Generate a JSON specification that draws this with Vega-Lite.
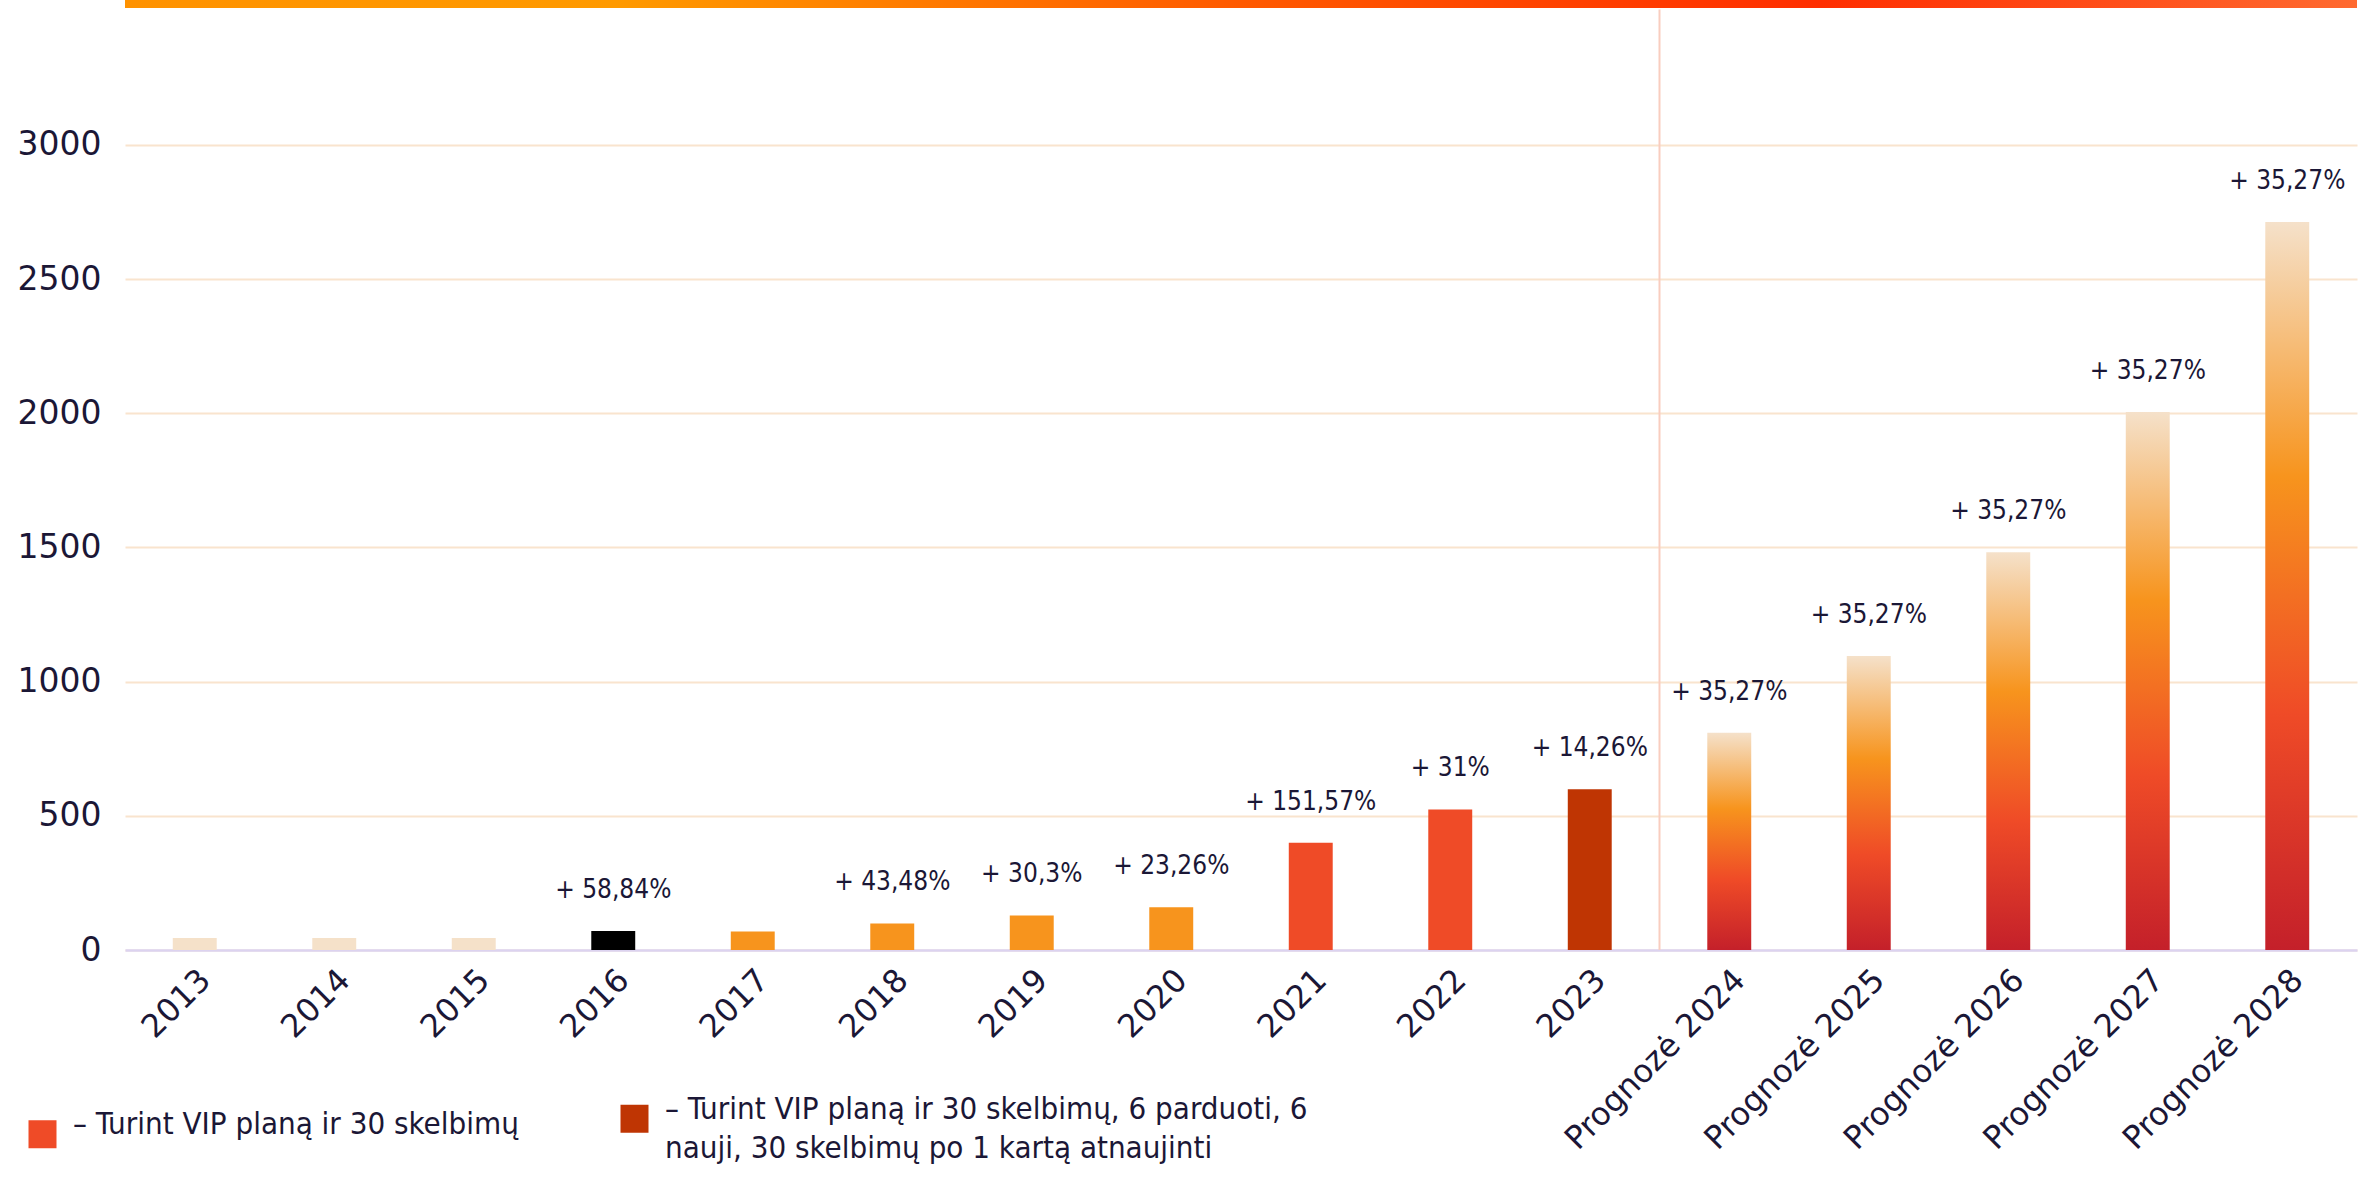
{
  "$schema": "https://vega.github.io/schema/vega-lite/v6.json",
  "width": 2232,
  "height": 950,
  "autosize": {"type": "none"},
  "padding": {"left": 125, "top": 0, "right": 12, "bottom": 238},
  "background": "white",
  "config": {
    "view": {"stroke": null},
    "font": "DejaVu Sans",
    "style": {"guide-label": {"lineHeight": 39}}
  },
  "data": {
    "values": [
      {"year": "2013", "value": 45, "grp": "pale", "growth": null},
      {"year": "2014", "value": 45, "grp": "pale", "growth": null},
      {"year": "2015", "value": 45, "grp": "pale", "growth": null},
      {"year": "2016", "value": 71, "grp": "black", "growth": "+ 58,84%"},
      {"year": "2017", "value": 69, "grp": "orange", "growth": null},
      {"year": "2018", "value": 99, "grp": "orange", "growth": "+ 43,48%"},
      {"year": "2019", "value": 129, "grp": "orange", "growth": "+ 30,3%"},
      {"year": "2020", "value": 159, "grp": "orange", "growth": "+ 23,26%"},
      {"year": "2021", "value": 400, "grp": "vip", "growth": "+ 151,57%"},
      {"year": "2022", "value": 524, "grp": "vip", "growth": "+ 31%"},
      {"year": "2023", "value": 599, "grp": "vip2", "growth": "+ 14,26%"},
      {"year": "Prognozė 2024", "value": 810, "grp": "fc", "growth": "+ 35,27%"},
      {"year": "Prognozė 2025", "value": 1096, "grp": "fc", "growth": "+ 35,27%"},
      {"year": "Prognozė 2026", "value": 1482, "grp": "fc", "growth": "+ 35,27%"},
      {"year": "Prognozė 2027", "value": 2005, "grp": "fc", "growth": "+ 35,27%"},
      {"year": "Prognozė 2028", "value": 2713, "grp": "fc", "growth": "+ 35,27%"}
    ]
  },
  "layer": [
    {
      "transform": [{"filter": "datum.year == '2013'"}],
      "mark": {
        "type": "rect",
        "color": {
          "gradient": "linear", "x1": 0, "y1": 0, "x2": 1, "y2": 0,
          "stops": [
            {"offset": 0, "color": "#FF9200"},
            {"offset": 0.22, "color": "#FF9A00"},
            {"offset": 0.5, "color": "#FF5A00"},
            {"offset": 0.76, "color": "#FF2E00"},
            {"offset": 1, "color": "#FF6A30"}
          ]
        }
      },
      "encoding": {
        "y": {
          "datum": 3540, "type": "quantitative", "title": null,
          "scale": {"domain": [0, 3540], "nice": false},
          "axis": {
            "values": [0, 500, 1000, 1500, 2000, 2500, 3000], "format": "d",
            "labelFontSize": 33, "labelColor": "#1B1736", "labelFont": "DejaVu Sans",
            "ticks": false, "domain": false, "grid": true, "gridColor": "#F9E4CE", "gridWidth": 2,
            "labelPadding": 24
          }
        },
        "y2": {"datum": 3510}
      }
    },
    {
      "encoding": {
        "x": {
          "field": "year", "type": "nominal", "title": null,
          "scale": {
            "domain": ["2013", "2014", "2015", "2016", "2017", "2018", "2019", "2020", "2021", "2022", "2023", "Prognozė 2024", "Prognozė 2025", "Prognozė 2026", "Prognozė 2027", "Prognozė 2028"],
            "paddingInner": 0, "paddingOuter": 0
          },
          "axis": {
            "labelAngle": -45, "labelFontSize": 32, "labelColor": "#1B1736", "labelFont": "DejaVu Sans",
            "ticks": false, "domainColor": "#DCD3F0", "domainWidth": 2.5, "labelPadding": 14,
            "grid": false, "labelLimit": 500
          }
        },
        "y": {
          "field": "value", "type": "quantitative", "title": null,
          "scale": {"domain": [0, 3540], "nice": false},
          "axis": {
            "values": [0, 500, 1000, 1500, 2000, 2500, 3000], "format": "d",
            "labelFontSize": 33, "labelColor": "#1B1736", "labelFont": "DejaVu Sans",
            "ticks": false, "domain": false, "grid": true, "gridColor": "#F9E4CE", "gridWidth": 2,
            "labelPadding": 24
          }
        }
      },
      "layer": [
        {
          "transform": [{"filter": "datum.grp != 'fc'"}],
          "mark": {"type": "bar", "width": {"band": 0.315}},
          "encoding": {
            "color": {
              "field": "grp", "type": "nominal",
              "scale": {
                "domain": ["vip", "vip2", "pale", "black", "orange"],
                "range": ["#EF4B27", "#BF3503", "#F5E1C9", "#000000", "#F7941D"]
              },
              "legend": {
                "values": ["vip", "vip2"],
                "title": null,
                "orient": "none",
                "legendX": -98,
                "legendY": 1103,
                "direction": "horizontal",
                "columns": 2,
                "columnPadding": 100,
                "padding": 0,
                "symbolType": "square",
                "symbolSize": 784,
                "symbolStrokeWidth": 0,
                "labelFont": "DejaVu Sans Condensed, Liberation Sans Narrow, Roboto, sans-serif",
                "labelFontSize": 31,
                "labelColor": "#1B1736",
                "labelOffset": 15,
                "labelLimit": 1200,
                "labelBaseline": "alphabetic",
                "labelExpr": "datum.value == 'vip' ? '– Turint VIP planą ir 30 skelbimų' : ['– Turint VIP planą ir 30 skelbimų, 6 parduoti, 6', 'nauji, 30 skelbimų po 1 kartą atnaujinti']"
              }
            }
          }
        },
        {
          "transform": [{"filter": "datum.grp == 'fc'"}],
          "mark": {
            "type": "bar", "width": {"band": 0.315},
            "color": {
              "gradient": "linear", "x1": 0, "y1": 0, "x2": 0, "y2": 1,
              "stops": [
                {"offset": 0, "color": "#F5E1CA"},
                {"offset": 0.35, "color": "#F7941D"},
                {"offset": 0.675, "color": "#EF4B27"},
                {"offset": 1, "color": "#C4202A"}
              ]
            }
          }
        },
        {
          "transform": [{"filter": "isValid(datum.growth)"}],
          "mark": {
            "type": "text", "baseline": "alphabetic", "dy": -33,
            "font": "DejaVu Sans Condensed, Liberation Sans Narrow, Roboto, sans-serif",
            "fontSize": 26, "color": "#1B1736"
          },
          "encoding": {"text": {"field": "growth"}}
        },
        {
          "transform": [{"filter": "datum.year == 'Prognozė 2024'"}],
          "mark": {"type": "rule", "color": "#F9CDBF", "strokeWidth": 2},
          "encoding": {
            "x": {
              "field": "year", "type": "nominal", "title": null, "bandPosition": 0,
              "scale": {
                "domain": ["2013", "2014", "2015", "2016", "2017", "2018", "2019", "2020", "2021", "2022", "2023", "Prognozė 2024", "Prognozė 2025", "Prognozė 2026", "Prognozė 2027", "Prognozė 2028"],
                "paddingInner": 0, "paddingOuter": 0
              },
              "axis": {
                "labelAngle": -45, "labelFontSize": 32, "labelColor": "#1B1736", "labelFont": "DejaVu Sans",
                "ticks": false, "domainColor": "#DCD3F0", "domainWidth": 2.5, "labelPadding": 14,
                "grid": false, "labelLimit": 500
              }
            },
            "y": {
              "datum": 3505, "type": "quantitative", "title": null,
              "scale": {"domain": [0, 3540], "nice": false},
              "axis": {
                "values": [0, 500, 1000, 1500, 2000, 2500, 3000], "format": "d",
                "labelFontSize": 33, "labelColor": "#1B1736", "labelFont": "DejaVu Sans",
                "ticks": false, "domain": false, "grid": true, "gridColor": "#F9E4CE", "gridWidth": 2,
                "labelPadding": 24
              }
            },
            "y2": {"datum": 0}
          }
        }
      ]
    }
  ]
}
